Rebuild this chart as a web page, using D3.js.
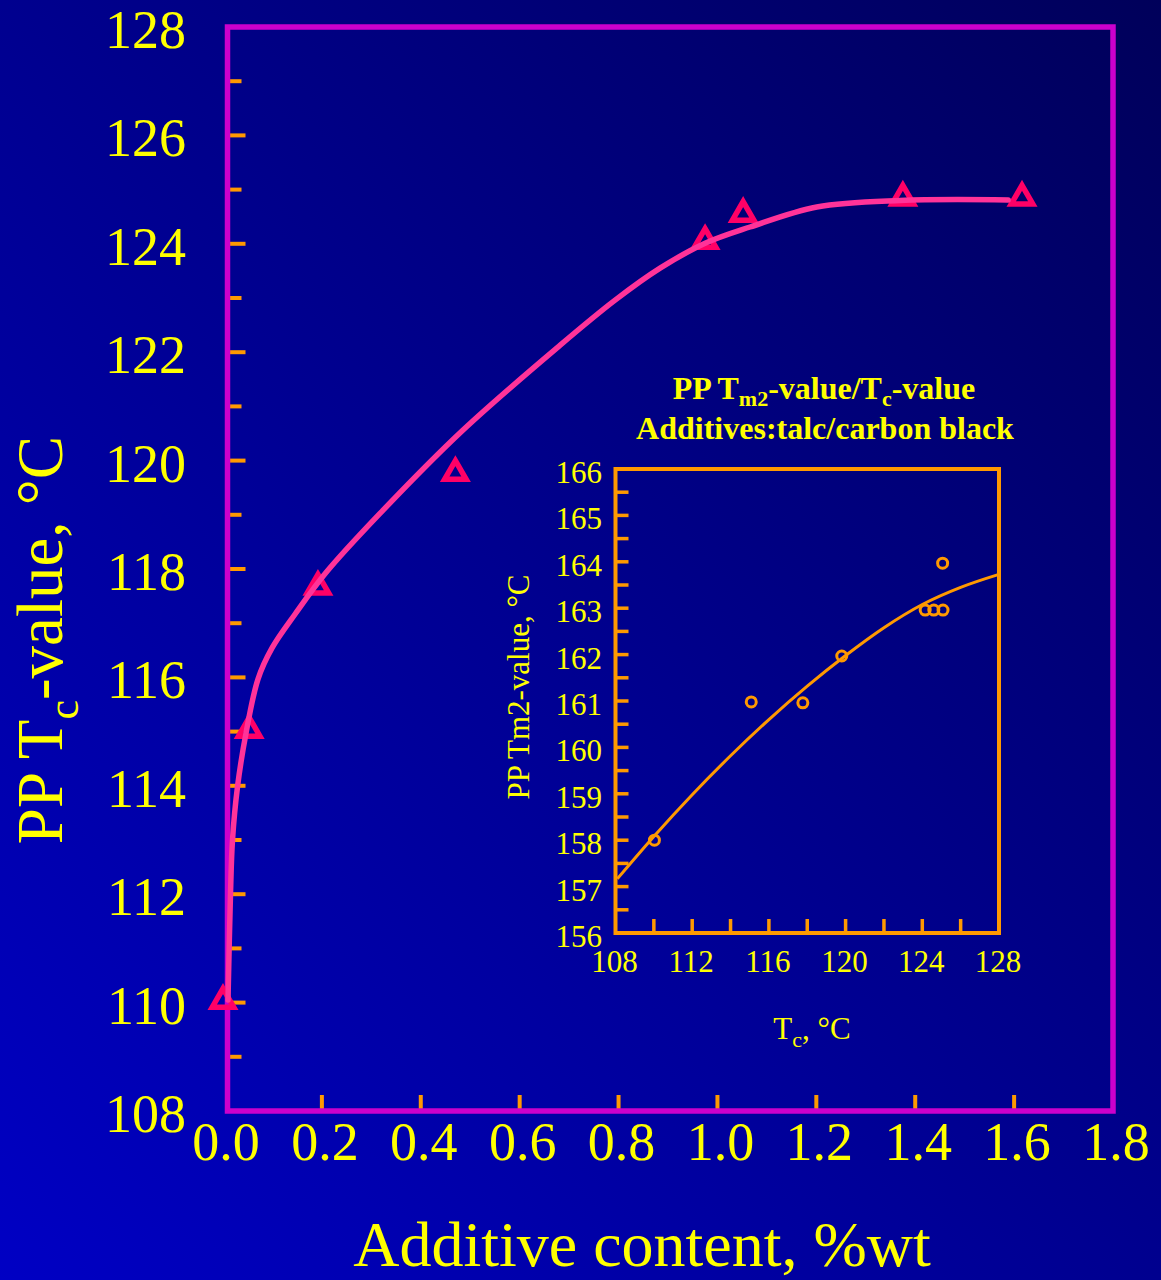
<!DOCTYPE html>
<html>
<head>
<meta charset="utf-8">
<script src="https://cdn.jsdelivr.net/npm/d3@7/dist/d3.min.js"></script>
<style>
  html, body { margin: 0; padding: 0; background: #00008e; }
  svg { display: block; }
</style>
</head>
<body>
<div id="chart"></div>
<script>
// ---- main chart data ----
const additiveContent = [0.0, 0.053, 0.192, 0.47, 0.975, 1.052, 1.375, 1.616];
const tcValue = [110.03, 115.03, 117.67, 119.77, 124.05, 124.55, 124.85, 124.85];

// hand drawn trend curve
const fitContent = [0.0101, 0.0152, 0.0192, 0.0293, 0.0465, 0.0708, 0.099, 0.146, 0.208, 0.318, 0.485, 0.682, 0.793, 0.884, 0.975, 1.066, 1.201, 1.369, 1.588];
const fitTc = [110.05, 112.02, 113.0, 113.98, 114.97, 115.97, 116.54, 117.17, 117.93, 119.03, 120.56, 122.13, 122.96, 123.55, 124.01, 124.31, 124.68, 124.8, 124.81];

const contentTicks = [0.2, 0.4, 0.6, 0.8, 1.0, 1.2, 1.4, 1.6];
const contentLabels = [0.0, 0.2, 0.4, 0.6, 0.8, 1.0, 1.2, 1.4, 1.6, 1.8];
const tcLabels = [108, 110, 112, 114, 116, 118, 120, 122, 124, 126, 128];
const tcMinor = [109, 111, 113, 115, 117, 119, 121, 123, 125, 127];

// ---- inset data ----
const insetTc = [110.03, 115.08, 117.77, 119.8, 124.15, 124.6, 125.08, 125.06];
const insetTm2 = [158.0, 160.98, 160.96, 161.97, 162.96, 162.96, 162.96, 163.97];
const insetFitTc = [108.1, 110, 112, 114, 116, 118, 120, 122, 124, 126, 128];
const insetFitTm2 = [157.17, 158.08, 158.98, 159.82, 160.6, 161.32, 161.98, 162.58, 163.08, 163.45, 163.73];

const insetXTicks = [110, 112, 114, 116, 118, 120, 122, 124, 126];
const insetXLabels = [108, 112, 116, 120, 124, 128];
const insetYTicks = [156.5, 157, 157.5, 158, 158.5, 159, 159.5, 160, 160.5, 161, 161.5, 162, 162.5, 163, 163.5, 164, 164.5, 165, 165.5];
const insetYLabels = [156, 157, 158, 159, 160, 161, 162, 163, 164, 165, 166];

const width = 1161, height = 1280;
const serif = "'Liberation Serif', 'Times New Roman', serif";
const yellow = "#ffff00", orange = "#ff9900", magenta = "#cc00cc";

const svg = d3.select("#chart").append("svg")
  .attr("width", width)
  .attr("height", height)
  .attr("font-family", serif);

// background gradient, dark at top right, brighter at bottom left
const grad = svg.append("defs").append("linearGradient")
  .attr("id", "bg")
  .attr("x1", 1).attr("y1", 0).attr("x2", 0).attr("y2", 1);
grad.append("stop").attr("offset", 0).attr("stop-color", "#00005a");
grad.append("stop").attr("offset", 1).attr("stop-color", "#0000c4");
svg.append("rect").attr("width", width).attr("height", height).attr("fill", "url(#bg)");

// ================= main chart =================
const frame = { left: 227.5, right: 1113, top: 27, bottom: 1111 };
const x = d3.scaleLinear().domain([0, 1.8]).range([223, frame.right]);
const y = d3.scaleLinear().domain([108, 128]).range([frame.bottom, frame.top]);

const main = svg.append("g").attr("class", "main");

// y ticks (inside the frame)
main.selectAll(".ytick-major").data(tcLabels.slice(1, -1)).join("line")
  .attr("class", "ytick-major")
  .attr("x1", frame.left).attr("x2", frame.left + 18)
  .attr("y1", d => y(d)).attr("y2", d => y(d))
  .attr("stroke", orange).attr("stroke-width", 4);
main.selectAll(".ytick-minor").data(tcMinor).join("line")
  .attr("class", "ytick-minor")
  .attr("x1", frame.left).attr("x2", frame.left + 14)
  .attr("y1", d => y(d)).attr("y2", d => y(d))
  .attr("stroke", orange).attr("stroke-width", 4);

// x ticks
main.selectAll(".xtick").data(contentTicks).join("line")
  .attr("class", "xtick")
  .attr("x1", d => x(d)).attr("x2", d => x(d))
  .attr("y1", frame.bottom).attr("y2", frame.bottom - 16)
  .attr("stroke", orange).attr("stroke-width", 4);

// frame
main.append("rect")
  .attr("x", frame.left).attr("y", frame.top)
  .attr("width", frame.right - frame.left)
  .attr("height", frame.bottom - frame.top)
  .attr("fill", "none")
  .attr("stroke", magenta)
  .attr("stroke-width", 5.5);

// tick labels
main.selectAll(".ylabel").data(tcLabels).join("text")
  .attr("class", "ylabel")
  .attr("x", 186)
  .attr("y", d => y(d))
  .attr("dy", "0.39em")
  .attr("text-anchor", "end")
  .attr("font-size", 54)
  .attr("fill", yellow)
  .text(d => d);

main.selectAll(".xlabel").data(contentLabels).join("text")
  .attr("class", "xlabel")
  .attr("x", d => x(d) + 3)
  .attr("y", 1160)
  .attr("text-anchor", "middle")
  .attr("font-size", 54)
  .attr("fill", yellow)
  .text(d => d.toFixed(1));

// axis titles
main.append("text")
  .attr("x", 642).attr("y", 1266)
  .attr("text-anchor", "middle")
  .attr("font-size", 64)
  .attr("fill", yellow)
  .text("Additive content, %wt");

const yTitle = main.append("text")
  .attr("transform", "translate(62,640) rotate(-90)")
  .attr("text-anchor", "middle")
  .attr("font-size", 65)
  .attr("fill", yellow);
yTitle.append("tspan").text("PP T");
yTitle.append("tspan").attr("font-size", 44).attr("dy", 16).text("c");
yTitle.append("tspan").attr("dy", -16).text("-value, °C");

// markers
main.selectAll(".marker").data(additiveContent.map((c, i) => [c, tcValue[i]])).join("path")
  .attr("class", "marker")
  .attr("d", d3.symbol(d3.symbolTriangle, 200))
  .attr("transform", d => `translate(${x(d[0])},${y(d[1])})`)
  .attr("fill", "none")
  .attr("stroke", "#ff0066")
  .attr("stroke-width", 5.5);

// trend curve
const mainLine = d3.line()
  .x(d => x(d[0]))
  .y(d => y(d[1]))
  .curve(d3.curveCatmullRom.alpha(0.5));

main.append("path")
  .datum(fitContent.map((c, i) => [c, fitTc[i]]))
  .attr("d", mainLine)
  .attr("fill", "none")
  .attr("stroke", "#ff3399")
  .attr("stroke-width", 5.5)
  .attr("stroke-linecap", "round");

// ================= inset =================
const box = { left: 615.5, right: 999, top: 469, bottom: 933 };
const ix = d3.scaleLinear().domain([108, 128]).range([box.left, box.right]);
const iy = d3.scaleLinear().domain([156, 166]).range([box.bottom, box.top]);

const inset = svg.append("g").attr("class", "inset");

// title
const t1 = inset.append("text")
  .attr("x", 824).attr("y", 399)
  .attr("text-anchor", "middle")
  .attr("font-size", 32)
  .attr("font-weight", "bold")
  .attr("fill", yellow);
t1.append("tspan").text("PP T");
t1.append("tspan").attr("font-size", 22).attr("dy", 7).text("m2");
t1.append("tspan").attr("dy", -7).text("-value/T");
t1.append("tspan").attr("font-size", 22).attr("dy", 7).text("c");
t1.append("tspan").attr("dy", -7).text("-value");

inset.append("text")
  .attr("x", 825).attr("y", 439)
  .attr("text-anchor", "middle")
  .attr("font-size", 32)
  .attr("font-weight", "bold")
  .attr("fill", yellow)
  .text("Additives:talc/carbon black");

// ticks
inset.selectAll(".iytick").data(insetYTicks).join("line")
  .attr("class", "iytick")
  .attr("x1", box.left).attr("x2", box.left + 13)
  .attr("y1", d => iy(d)).attr("y2", d => iy(d))
  .attr("stroke", orange).attr("stroke-width", 3.5);

inset.selectAll(".ixtick").data(insetXTicks).join("line")
  .attr("class", "ixtick")
  .attr("x1", d => ix(d)).attr("x2", d => ix(d))
  .attr("y1", box.bottom).attr("y2", box.bottom - 14)
  .attr("stroke", orange).attr("stroke-width", 3.5);

inset.append("rect")
  .attr("x", box.left).attr("y", box.top)
  .attr("width", box.right - box.left)
  .attr("height", box.bottom - box.top)
  .attr("fill", "none")
  .attr("stroke", orange)
  .attr("stroke-width", 4);

// tick labels
inset.selectAll(".iylabel").data(insetYLabels).join("text")
  .attr("class", "iylabel")
  .attr("x", 602)
  .attr("y", d => iy(d) + 14)
  .attr("text-anchor", "end")
  .attr("font-size", 31)
  .attr("fill", yellow)
  .text(d => d);

inset.selectAll(".ixlabel").data(insetXLabels).join("text")
  .attr("class", "ixlabel")
  .attr("x", d => ix(d) - 1)
  .attr("y", 972)
  .attr("text-anchor", "middle")
  .attr("font-size", 31)
  .attr("fill", yellow)
  .text(d => d);

// axis titles
const ixTitle = inset.append("text")
  .attr("x", 812).attr("y", 1039)
  .attr("text-anchor", "middle")
  .attr("font-size", 31)
  .attr("fill", yellow);
ixTitle.append("tspan").text("T");
ixTitle.append("tspan").attr("font-size", 22).attr("dy", 8).text("c");
ixTitle.append("tspan").attr("dy", -8).text(", °C");

inset.append("text")
  .attr("transform", "translate(529,687) rotate(-90)")
  .attr("text-anchor", "middle")
  .attr("font-size", 31)
  .attr("fill", yellow)
  .text("PP Tm2-value, °C");

// curve + points
inset.append("path")
  .datum(insetFitTc.map((t, i) => [t, insetFitTm2[i]]))
  .attr("d", d3.line().x(d => ix(d[0])).y(d => iy(d[1])).curve(d3.curveMonotoneX))
  .attr("fill", "none")
  .attr("stroke", orange)
  .attr("stroke-width", 3);

inset.selectAll(".ipoint").data(insetTc.map((t, i) => [t, insetTm2[i]])).join("circle")
  .attr("class", "ipoint")
  .attr("cx", d => ix(d[0]))
  .attr("cy", d => iy(d[1]))
  .attr("r", 5)
  .attr("fill", "none")
  .attr("stroke", orange)
  .attr("stroke-width", 3);
</script>
</body>
</html>
